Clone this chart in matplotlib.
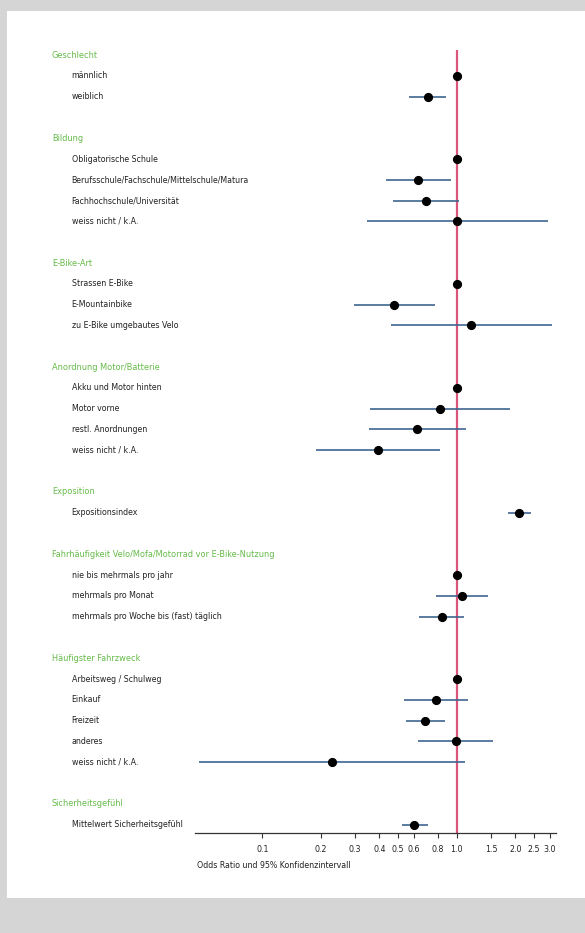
import numpy as np
import matplotlib
matplotlib.use("Agg")
import matplotlib.pyplot as plt
from matplotlib.patches import Rectangle
from matplotlib.transforms import blended_transform_factory

plt.rcParams['font.family'] = ['DejaVu Sans']
plt.rcParams['font.stretch'] = 'condensed'

# ---------------- data ----------------
groups = ["Geschlecht", "Bildung", "E-Bike-Art", "Anordnung Motor/Batterie",
          "Exposition", "Fahrhäufigkeit Velo/Mofa/Motorrad vor E-Bike-Nutzung",
          "Häufigster Fahrzweck", "Sicherheitsgefühl"]
group_sizes = [2, 4, 3, 4, 1, 3, 5, 1]
labels = ["männlich", "weiblich",
          "Obligatorische Schule", "Berufsschule/Fachschule/Mittelschule/Matura",
          "Fachhochschule/Universität", "weiss nicht / k.A.",
          "Strassen E-Bike", "E-Mountainbike", "zu E-Bike umgebautes Velo",
          "Akku und Motor hinten", "Motor vorne", "restl. Anordnungen", "weiss nicht / k.A.",
          "Expositionsindex",
          "nie bis mehrmals pro jahr", "mehrmals pro Monat",
          "mehrmals pro Woche bis (fast) täglich",
          "Arbeitsweg / Schulweg", "Einkauf", "Freizeit", "anderes", "weiss nicht / k.A.",
          "Mittelwert Sicherheitsgefühl"]
odds = [1.0, 0.71,
        1.0, 0.634, 0.693, 1.0,
        1.0, 0.478, 1.185,
        1.0, 0.821, 0.627, 0.394,
        2.09,
        1.0, 1.06, 0.837,
        1.0, 0.78, 0.685, 0.988, 0.2275,
        0.605]
ci_low = [np.nan, 0.57,
          np.nan, 0.434, 0.47, 0.346,
          np.nan, 0.296, 0.457,
          np.nan, 0.359, 0.354, 0.19,
          1.83,
          np.nan, 0.782, 0.642,
          np.nan, 0.536, 0.548, 0.632, 0.0474,
          0.523]
ci_high = [np.nan, 0.884,
           np.nan, 0.938, 1.031, 2.94,
           np.nan, 0.773, 3.08,
           np.nan, 1.88, 1.11, 0.818,
           2.40,
           np.nan, 1.449, 1.086,
           np.nan, 1.143, 0.868, 1.54, 1.099,
           0.709]
tick_values = [0.1, 0.2, 0.3, 0.4, 0.5, 0.6, 0.8, 1.0, 1.5, 2.0, 2.5, 3.0]
tick_labels = ["0.1", "0.2", "0.3", "0.4", "0.5", "0.6", "0.8", "1.0", "1.5", "2.0", "2.5", "3.0"]

# ---------------- layout ----------------
W, H = 585, 933
FS = 6.3
FS_HEAD = 6.6
fig = plt.figure(figsize=(W / 100, H / 100), dpi=100)
fig.patch.set_facecolor("white")

GRAY = "#d5d5d5"
fig.patches.append(Rectangle((0, 1 - 11 / H), 1, 11 / H, transform=fig.transFigure,
                             facecolor=GRAY, edgecolor="none", zorder=0))
fig.patches.append(Rectangle((0, 0), 7 / W, 1, transform=fig.transFigure,
                             facecolor=GRAY, edgecolor="none", zorder=0))
fig.patches.append(Rectangle((0, 0), 1, 35 / H, transform=fig.transFigure,
                             facecolor=GRAY, edgecolor="none", zorder=0))

ax_left, ax_right = 195, 556
ax_top, ax_bottom = 40, 833
ax = fig.add_axes([ax_left / W, 1 - ax_bottom / H, (ax_right - ax_left) / W, (ax_bottom - ax_top) / H])
ax.set_facecolor("none")

row0_px, row_step = 55.0, 20.8
ax.set_ylim((ax_bottom - row0_px) / row_step, (ax_top - row0_px) / row_step)
ax.set_xscale("log")
ax.set_xlim(0.0451, 3.24)

# row positions
header_rows, item_rows = [], []
r = 0
for n in group_sizes:
    header_rows.append(r)
    item_rows.extend(range(r + 1, r + 1 + n))
    r += n + 2

GREEN = "#66bb4a"
BLUE = "#3f6690"
RED = "#d9557a"

# reference line
ax.vlines(1.0, (ax_bottom - row0_px) / row_step, (49.5 - row0_px) / row_step,
          color=RED, lw=1.6, zorder=2)

for y, o, lo, hi in zip(item_rows, odds, ci_low, ci_high):
    if not np.isnan(lo):
        ax.plot([lo, hi], [y, y], color=BLUE, lw=1.2, zorder=3, solid_capstyle="butt")
    ax.plot([o], [y], marker="o", ms=5.6, color="black", zorder=4)

tr = blended_transform_factory(fig.transFigure, ax.transData)
for y, g in zip(header_rows, groups):
    ax.text(52 / W, y, g, transform=tr, color=GREEN, fontsize=FS_HEAD,
            va="center", ha="left", clip_on=False)
for y, lab in zip(item_rows, labels):
    ax.text(71.5 / W, y, lab, transform=tr, color="#222222", fontsize=FS,
            va="center", ha="left", clip_on=False)

for s in ["top", "right", "left"]:
    ax.spines[s].set_visible(False)
ax.spines["bottom"].set_color("#333333")
ax.spines["bottom"].set_linewidth(0.9)
ax.set_yticks([])
ax.set_xticks(tick_values)
ax.set_xticklabels(tick_labels)
ax.xaxis.set_minor_locator(matplotlib.ticker.NullLocator())
ax.tick_params(axis="x", direction="out", length=3.5, width=0.8, color="#333333",
               labelsize=FS, labelcolor="#222222", pad=5)

fig.text(197 / W, 1 - 866 / H, "Odds Ratio und 95% Konfidenzintervall",
         fontsize=FS, color="#222222", ha="left", va="center")

fig.savefig("out.png", dpi=100)
